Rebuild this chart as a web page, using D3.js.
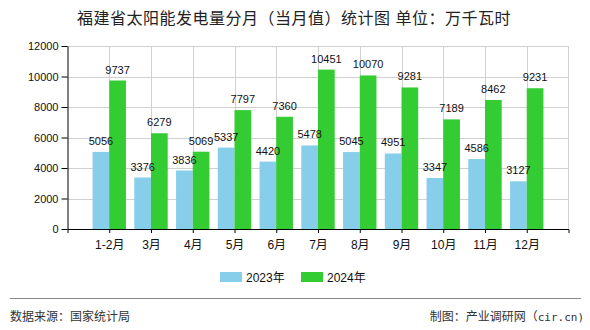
<!DOCTYPE html>
<html><head><meta charset="utf-8">
<script src="https://cdn.jsdelivr.net/npm/d3@7/dist/d3.min.js"></script>
<style>
body{margin:0;background:#fff;}
text{font-family:"Liberation Sans","Noto Sans CJK SC",sans-serif;}
</style></head>
<body><svg id="c" width="590" height="330"></svg>
<script>
const categories = ["1-2月","3月","4月","5月","6月","7月","8月","9月","10月","11月","12月"];
const series2023 = [5056,3376,3836,5337,4420,5478,5045,4951,3347,4586,3127];
const series2024 = [9737,6279,5069,7797,7360,10451,10070,9281,7189,8462,9231];
const yTicks = [0,2000,4000,6000,8000,10000,12000];
const seriesNames = ["2023年","2024年"];
const colors = ["#87CEEB","#33CC33"];

const svg = d3.select("#c");
const L = 67.5, R = 568.5, T = 46, B = 229;
const x = d3.scalePoint().domain(categories).range([L, R]).padding(1);
const y = d3.scaleLinear().domain([0, 12000]).range([B, T]);
const bw = 16.7;

svg.append("text").attr("x", 294).attr("y", 23.5).attr("text-anchor","middle")
  .attr("font-size", 16).attr("letter-spacing","0.5px").attr("font-family","'Noto Sans CJK SC',sans-serif").attr("fill","#222")
  .text("福建省太阳能发电量分月（当月值）统计图 单位：万千瓦时");

// grid
const g = svg.append("g");
g.selectAll(".hg").data(yTicks.filter(d=>d>0)).join("line")
  .attr("x1", L).attr("x2", R).attr("y1", d=>Math.round(y(d))+0.5).attr("y2", d=>Math.round(y(d))+0.5)
  .attr("stroke","#d0d0d0");
g.selectAll(".vg").data(categories).join("line")
  .attr("x1", d=>Math.round(x(d))+0.5).attr("x2", d=>Math.round(x(d))+0.5).attr("y1", T).attr("y2", B)
  .attr("stroke","#d0d0d0");
g.append("line").attr("x1", R).attr("x2", R).attr("y1", T).attr("y2", B).attr("stroke","#d0d0d0");

// bars
const data = categories.map((c,i)=>({c, a:series2023[i], b:series2024[i]}));
svg.selectAll(".b1").data(data).join("rect")
  .attr("x", d=>x(d.c)-bw).attr("width", bw).attr("y", d=>y(d.a)).attr("height", d=>B-y(d.a)).attr("fill", colors[0]);
svg.selectAll(".b2").data(data).join("rect")
  .attr("x", d=>x(d.c)).attr("width", bw).attr("y", d=>y(d.b)).attr("height", d=>B-y(d.b)).attr("fill", colors[1]);

// labels
svg.selectAll(".l1").data(data).join("text")
  .attr("x", d=>x(d.c)-bw/2).attr("y", d=>y(d.a)-7).attr("text-anchor","middle").attr("font-size",11).attr("fill","#111")
  .text(d=>d.a);
svg.selectAll(".l2").data(data).join("text")
  .attr("x", d=>x(d.c)+bw/2).attr("y", d=>y(d.b)-7).attr("text-anchor","middle").attr("font-size",11).attr("fill","#111")
  .text(d=>d.b);

// axes
const ya = svg.append("g").attr("transform",`translate(${L},0)`)
  .call(d3.axisLeft(y).tickValues(yTicks).tickSize(6).tickSizeOuter(0).tickFormat(d3.format("d")));
ya.select(".domain").attr("stroke","#000");
ya.selectAll("text").attr("font-size",11).attr("fill","#111").attr("font-family","'Liberation Sans',sans-serif");
const xa = svg.append("g").attr("transform",`translate(0,${B})`)
  .call(d3.axisBottom(x).tickSize(4).tickSizeOuter(4));
xa.select(".domain").attr("stroke","#000");
xa.selectAll("text").attr("font-size",12).attr("fill","#111").attr("dy","1.1em");

// legend
const lg = svg.append("g");
[[220,246],[301,327]].forEach((p,i)=>{
  lg.append("rect").attr("x",p[0]).attr("y",272).attr("width",22).attr("height",10).attr("fill",colors[i]);
  lg.append("text").attr("x",p[1]).attr("y",281.5).attr("font-size",12).attr("fill","#111").text(seriesNames[i]);
});

// footer
svg.append("line").attr("x1",10).attr("x2",581).attr("y1",298.5).attr("y2",298.5).attr("stroke","#888");
svg.append("text").attr("x",10).attr("y",321).attr("font-size",12).attr("fill","#333")
  .attr("font-family","'Noto Sans CJK SC',sans-serif").text("数据来源：国家统计局");
const ft = svg.append("text").attr("x",584).attr("y",321).attr("text-anchor","end").attr("font-size",12).attr("fill","#333")
  .attr("font-family","'Noto Sans CJK SC',sans-serif");
ft.append("tspan").text("制图：产业调研网（");
ft.append("tspan").attr("font-family","'DejaVu Sans Mono',monospace").attr("font-size",11).text("cir.cn)");
</script></body></html>
